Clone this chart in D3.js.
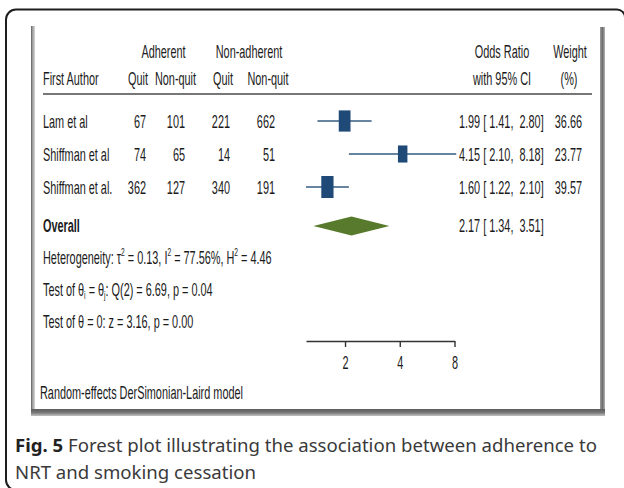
<!DOCTYPE html>
<html>
<head>
<meta charset="utf-8">
<script src="https://cdn.jsdelivr.net/npm/d3@7"></script>
<style>
  html, body { margin: 0; padding: 0; background: #fff; }
  svg { display: block; }
  text { white-space: pre; }
</style>
</head>
<body>
<svg id="fig" width="624" height="488"></svg>
<script>
// Study-level counts and meta-analysis results
const studies        = ["Lam et al", "Shiffman et al", "Shiffman et al."];
const adhQuit        = [67, 74, 362];
const adhNonQuit     = [101, 65, 127];
const nonAdhQuit     = [221, 14, 340];
const nonAdhNonQuit  = [662, 51, 191];
const oddsRatio      = [1.99, 4.15, 1.60];
const ciLower        = [1.41, 2.10, 1.22];
const ciUpper        = [2.80, 8.18, 2.10];
const weights        = [36.66, 23.77, 39.57];
const overallOR      = [2.17];
const overallLower   = [1.34];
const overallUpper   = [3.51];
const axisTicks      = [2, 4, 8];
const heterogeneity  = { tau2: 0.13, i2: 77.56, h2: 4.46 };
const homogeneity    = { df: 2, q: 6.69, p: 0.04 };
const effectTest     = { z: 3.16, p: 0.00 };

const svg = d3.select("#fig");
const FONT = "'Liberation Sans', Arial, sans-serif";
const FS = 18;       // chart text size
const SX = 0.605;    // horizontal squeeze of the chart text
const INK = "#1b1b1b";

// ---- outer bracket frame ----
svg.append("path")
  .attr("d", "M6,480 L6,19.5 A10,10 0 0 1 16,9.5 L617,9.5 A8,8 0 0 1 625,17.5 M6,480 A10,10 0 0 0 16,490")
  .attr("fill", "none").attr("stroke", "#1e1e1e").attr("stroke-width", 2);

// ---- panel shadow edges ----
const defs = svg.append("defs");
function grad(id, x2, y2, stops) {
  const g = defs.append("linearGradient").attr("id", id)
    .attr("x1", 0).attr("y1", 0).attr("x2", x2).attr("y2", y2);
  stops.forEach(([o, c]) => g.append("stop").attr("offset", o).attr("stop-color", c));
}
grad("gL", 1, 0, [[0, "#5a5a5a"], [0.35, "#9a9a9a"], [1, "#d6d6d6"]]);
grad("gR", 1, 0, [[0, "#9c9c9c"], [0.5, "#6f6f6f"], [1, "#b5b5b5"]]);
grad("gB", 0, 1, [[0, "#5c5c5c"], [0.5, "#777"], [1, "#c2c2c2"]]);
svg.append("rect").attr("x", 31).attr("y", 26).attr("width", 4).attr("height", 390).attr("fill", "url(#gL)");
svg.append("rect").attr("x", 600).attr("y", 27).attr("width", 5).attr("height", 389).attr("fill", "url(#gR)");
svg.append("rect").attr("x", 31).attr("y", 409).attr("width", 574).attr("height", 7).attr("fill", "url(#gB)");

const chart = svg.append("g");

// text helper: condensed chart lettering
function label(x, y, str, anchor = "start", weight = "normal") {
  return chart.append("text")
    .attr("transform", `translate(${x},${y}) scale(${SX},1)`)
    .attr("text-anchor", anchor)
    .attr("font-family", FONT)
    .attr("font-size", FS)
    .attr("font-weight", weight)
    .attr("fill", INK)
    .text(str);
}

// ---- column headers ----
const col = { author: 43, aq: 146, an: 185, nq: 230, nn: 275, orLeft: 459, orHead: 502, wRight: 582, wHead: 570 };
label(163.5, 58, "Adherent", "middle");
label(249, 58, "Non-adherent", "middle");
label(col.orHead, 58, "Odds Ratio", "middle");
label(col.wHead, 58, "Weight", "middle");
label(col.author, 85, "First Author");
label(138, 85, "Quit", "middle");
label(175.5, 85, "Non-quit", "middle");
label(223, 85, "Quit", "middle");
label(268, 85, "Non-quit", "middle");
label(col.orHead, 85, "with 95% CI", "middle");
label(col.wHead - 1, 85, "(%)", "middle");

chart.append("line").attr("x1", 43).attr("x2", 592).attr("y1", 94).attr("y2", 94)
  .attr("stroke", "#4a4a4a").attr("stroke-width", 1.6);

// ---- scales ----
const rowY = d3.scaleLinear().domain([0, 1]).range([121, 154]);
const x = d3.scaleLog().base(2).domain([d3.min(ciLower), d3.max(axisTicks)]).range([306, 454.5]);
const boxW = d3.scaleSqrt().domain([0, 40]).range([0, 12.3]);
const f2 = d3.format(".2f");
const fmtCI = (m, lo, hi) => `${f2(m)} [ ${f2(lo)},  ${f2(hi)}]`;
const BASE = 6.5;   // baseline offset from row centre

// ---- study rows ----
studies.forEach((s, i) => {
  const y = rowY(i);
  label(col.author, y + BASE, s);
  label(col.aq, y + BASE, String(adhQuit[i]), "end");
  label(col.an, y + BASE, String(adhNonQuit[i]), "end");
  label(col.nq, y + BASE, String(nonAdhQuit[i]), "end");
  label(col.nn, y + BASE, String(nonAdhNonQuit[i]), "end");
  label(col.orLeft, y + BASE, fmtCI(oddsRatio[i], ciLower[i], ciUpper[i]));
  label(col.wRight, y + BASE, f2(weights[i]), "end");

  chart.append("line")
    .attr("x1", x(ciLower[i])).attr("x2", x(ciUpper[i]))
    .attr("y1", y).attr("y2", y)
    .attr("stroke", "#355b82").attr("stroke-width", 1.5);
  const w = boxW(weights[i]), h = w * 1.8;
  chart.append("rect")
    .attr("x", x(oddsRatio[i]) - w / 2).attr("y", y - h / 2)
    .attr("width", w).attr("height", h)
    .attr("fill", "#1f4a78");
});

// ---- overall estimate ----
const yOverall = rowY(3.18);
label(col.author, yOverall + BASE, "Overall", "start", "bold");
label(col.orLeft, yOverall + BASE, fmtCI(overallOR[0], overallLower[0], overallUpper[0]));
const dh = 9.5;
chart.append("path")
  .attr("d", `M${x(overallLower[0])},${yOverall} L${x(overallOR[0])},${yOverall - dh} L${x(overallUpper[0])},${yOverall} L${x(overallOR[0])},${yOverall + dh} Z`)
  .attr("fill", "#587a2c");

// ---- heterogeneity and tests ----
function richLabel(xp, y, parts) {
  const t = chart.append("text")
    .attr("transform", `translate(${xp},${y}) scale(${SX},1)`)
    .attr("font-family", FONT).attr("font-size", FS).attr("fill", INK);
  let shift = 0;
  parts.forEach(p => {
    const kind = p[0], str = p[1];
    let target = 0, size = FS;
    if (kind === "sup") { target = -8; size = 11; }
    if (kind === "sub") { target = 3; size = 11; }
    t.append("tspan").attr("dy", target - shift).attr("font-size", size).text(str);
    shift = target;
  });
  return t;
}
richLabel(col.author, rowY(4.15) + BASE, [
  ["n", "Heterogeneity: τ"], ["sup", "2"], ["n", ` = ${f2(heterogeneity.tau2)}, I`], ["sup", "2"],
  ["n", ` = ${f2(heterogeneity.i2)}%, H`], ["sup", "2"], ["n", ` = ${f2(heterogeneity.h2)}`]
]);
richLabel(col.author, rowY(5.12) + BASE, [
  ["n", "Test of θ"], ["sub", "i"], ["n", " = θ"], ["sub", "j"],
  ["n", `: Q(${homogeneity.df}) = ${f2(homogeneity.q)}, p = ${f2(homogeneity.p)}`]
]);
label(col.author, rowY(6.09) + BASE, `Test of θ = 0: z = ${f2(effectTest.z)}, p = ${f2(effectTest.p)}`);

// ---- x axis ----
const axisG = chart.append("g").attr("transform", "translate(0,341)")
  .call(d3.axisBottom(x).tickValues(axisTicks).tickFormat(d3.format("d")).tickSize(6).tickSizeOuter(0));
axisG.select(".domain").attr("stroke", "#333").attr("stroke-width", 1.4);
axisG.selectAll(".tick line").attr("stroke", "#333").attr("stroke-width", 1.4);
axisG.selectAll(".tick text")
  .attr("font-family", FONT).attr("font-size", FS).attr("fill", INK)
  .attr("y", 28).attr("dy", 0)
  .attr("transform", `scale(${SX},1)`);

label(40, 399, "Random-effects DerSimonian-Laird model");

// ---- caption ----
const cap = svg.append("g").attr("font-family", "'Noto Sans', 'Open Sans', sans-serif").attr("font-size", 18.6).attr("fill", "#3a3a3a");
const l1 = cap.append("text").attr("x", 15).attr("y", 452);
l1.append("tspan").attr("font-weight", "bold").attr("fill", "#222").text("Fig. 5");
l1.append("tspan").text(" Forest plot illustrating the association between adherence to");
cap.append("text").attr("x", 15).attr("y", 479).text("NRT and smoking cessation");
</script>
</body>
</html>
